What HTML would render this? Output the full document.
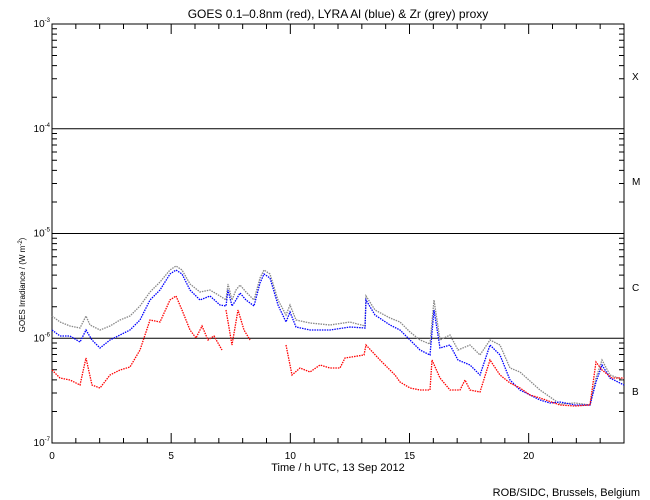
<!DOCTYPE html><html><head><style>body{margin:0;background:#fff}svg{display:block;font-family:"Liberation Sans",sans-serif}</style></head><body>
<svg id="s" width="650" height="500" xmlns="http://www.w3.org/2000/svg">
<rect width="650" height="500" fill="#fff"/>
<text x="338" y="18" font-size="12" text-anchor="middle">GOES 0.1–0.8nm (red), LYRA Al (blue) &amp; Zr (grey) proxy</text>
<text transform="translate(25,285) rotate(-90)" font-size="8" text-anchor="middle">GOES Irradiance / (W m<tspan baseline-shift="super" font-size="6">-2</tspan>)</text>
<text x="338" y="471" font-size="11" text-anchor="middle">Time / h UTC, 13 Sep 2012</text>
<text x="640" y="496" font-size="11" text-anchor="end">ROB/SIDC, Brussels, Belgium</text>
<g font-size="10"><text x="632" y="80">X</text><text x="632" y="185">M</text><text x="632" y="291">C</text><text x="632" y="395">B</text></g>
<g id="t" stroke="#000" stroke-width="1" fill="none"></g>
<g font-size="10" id="lab"></g>
<g fill="none" stroke-width="1.3" stroke-dasharray="1.5 1">
<polyline stroke="#888" points="52,316 60,322 70,326 80,328 86,316 90,325 100,330 110,326 120,320 130,316 140,306 150,292 160,282 170,270 176,266 182,270 190,284 200,292 210,290 220,296 226,300 228,284 232,300 236,290 240,285 246,292 254,300 260,278 264,270 270,274 278,300 286,315 290,305 296,320 310,323 330,325 350,322 365,326 366,296 375,310 390,318 400,322 410,332 420,340 430,344 434,300 440,340 450,335 458,350 470,345 480,355 490,340 500,345 510,368 520,372 540,390 560,404 575,403 590,405 596,378 602,360 610,375 624,380"/>
<polyline stroke="#00f" points="52,330 60,336 70,336 80,342 86,330 92,340 100,348 110,340 120,335 130,330 140,320 150,300 160,290 170,274 176,270 182,274 190,290 200,300 210,296 220,305 226,306 228,290 232,306 236,300 240,293 246,300 254,306 260,283 264,274 270,278 278,305 286,322 290,312 296,327 310,330 330,330 350,327 365,328 366,300 375,315 390,325 400,330 410,340 420,350 430,355 434,310 440,348 450,345 458,360 470,365 480,375 490,345 500,355 510,380 520,390 540,400 550,403 560,402 575,405 590,405 596,382 602,365 610,378 624,385"/>
<polyline stroke="#f00" points="52,370 60,378 70,380 80,385 86,358 92,385 100,388 110,375 120,370 130,367 140,350 150,320 160,322 170,300 176,296 182,310 190,330 196,338 202,326 208,340 214,336 222,350"/>
<polyline stroke="#f00" points="226,310 232,345 238,310 244,330 250,340"/>
<polyline stroke="#f00" points="286,345 292,375 300,368 310,372 320,365 330,368 340,368 345,358 364,355 366,345 380,360 395,375 400,382 410,388 420,390 430,390 432,360 440,378 450,390 460,390 465,380 470,390 480,392 490,360 500,375 510,383 520,388 530,395 540,398 560,405 575,406 590,405 596,362 602,370 612,378 624,378"/>
</g>
</svg>
<script>
var t=document.getElementById('t'),lab=document.getElementById('lab'),ns='http://www.w3.org/2000/svg';
var L=52,R=624,T=24,B=443,d=(B-T)/4,hx=(R-L)/24,p='';
p+='M'+L+' '+T+'H'+R+'V'+B+'H'+L+'Z';
for(var k=1;k<4;k++){p+='M'+L+' '+(T+k*d)+'H'+R;}
for(var k=0;k<4;k++){for(var m=2;m<10;m++){var y=T+(k+1)*d-Math.log10(m)*d;p+='M'+L+' '+y+'h5M'+R+' '+y+'h-5';}}
for(var h=1;h<24;h++){var x=L+h*hx,len=h%5==0?10:5;p+='M'+x+' '+B+'v-'+len+'M'+x+' '+T+'v'+len;}
var pa=document.createElementNS(ns,'path');pa.setAttribute('d',p);t.appendChild(pa);
function tx(x,y,s,a){var e=document.createElementNS(ns,'text');e.setAttribute('x',x);e.setAttribute('y',y);if(a)e.setAttribute('text-anchor',a);e.innerHTML=s;lab.appendChild(e);}
for(var k=0;k<5;k++){tx(50,T+k*d+3,'10<tspan font-size="6" dy="-5">-'+(3+k)+'</tspan>','end');}
[0,5,10,15,20].forEach(function(h){tx(L+h*hx,459,h,'middle');});
</script>
</body></html>
